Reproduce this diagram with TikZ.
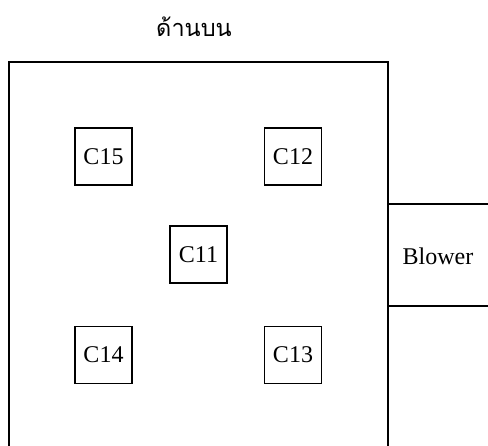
\documentclass[tikz,border=0pt]{standalone}
\usepackage{fontspec}
\setmainfont{Liberation Serif}
\newfontfamily\thaifont[Script=Thai]{Loma}
\usepackage{tikz}
\usetikzlibrary{positioning}

\begin{document}
\begin{tikzpicture}[x=1pt, y=-1pt, line width=1.5pt, font=\fontsize{24}{28}\selectfont,
    sensorbox/.style={draw, rectangle, minimum width=57pt, minimum height=57pt, inner sep=0pt}]
    \useasboundingbox (0,0) rectangle (488,446);

    % chamber walls (open at the bottom) and the blower duct
    \coordinate (wallBL) at (9,446);
    \coordinate (wallTL) at (9,62);
    \coordinate (wallTR) at (388,62);
    \coordinate (wallBR) at (388,446);
    \draw (wallBL) -- (wallTL) -- (wallTR) -- (wallBR);
    \coordinate (ductT) at (488,204);
    \coordinate (ductB) at (488,306);
    \draw (ductT) -- (ductT -| wallTR);
    \draw (ductB) -- (ductB -| wallTR);
    \node (blower) at (438,256) {Blower};

    \node [font=\thaifont\fontsize{23.5}{26}\selectfont] (top) at (194,27) {ด้านบน};

    % sensor positions
    \node [sensorbox] (c15) at (103.5,156.5) {C15};
    \node [sensorbox] (c12) at (293,156.5) {C12};
    \node [sensorbox] (c11) at (198.5,254.5) {C11};
    \node [sensorbox] (c14) at (103.5,355) {C14};
    \node [sensorbox] (c13) at (293,355) {C13};
\end{tikzpicture}
\end{document}
